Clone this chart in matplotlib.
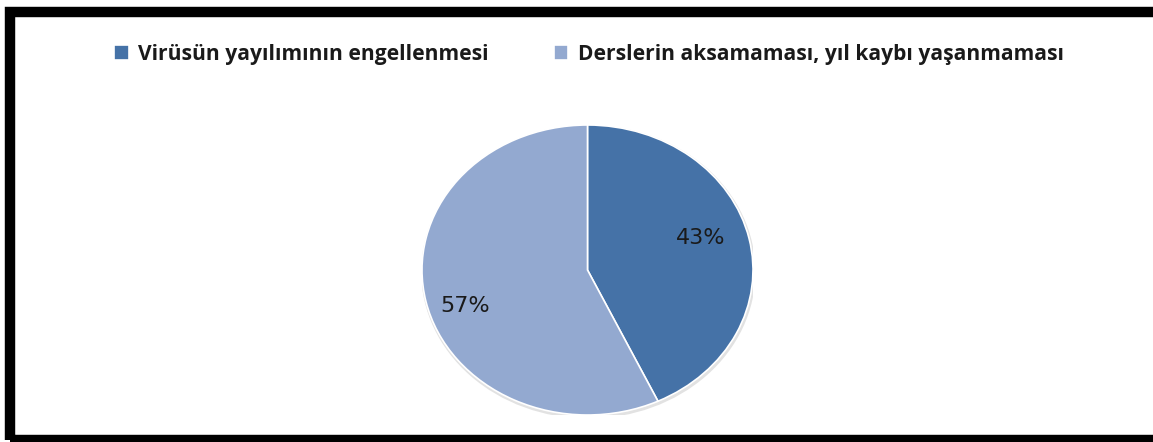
import matplotlib.pyplot as plt
import matplotlib.patches as mpatches

labels = ["Virüsün yayılımının engellenmesi", "Derslerin aksamaması, yıl kaybı yaşanmaması"]
values = [43, 57]
colors = ["#4572A7", "#93A9D0"]
label_pos = [(0.685, 0.22), (-0.74, -0.245)]  # where the original puts the % labels

W, H = 1153, 442
fig = plt.figure(figsize=(W / 100, H / 100), dpi=100)
fig.patch.set_facecolor("white")

# thick black frame (right side runs off the picture)
fig.patches.append(mpatches.Rectangle((10 / W, 2 / H), 1.2, (430.5 - 2) / H,
                                      transform=fig.transFigure, fill=False,
                                      edgecolor="black", linewidth=7.5, clip_on=False))

# pie axes: stretched a bit horizontally like the original
cx, cy, rx, ry = 587.5, 270, 165.5, 145
ax = fig.add_axes([(cx - rx) / W, (H - cy - ry) / H, 2 * rx / W, 2 * ry / H])

# soft shadow
ax.add_patch(mpatches.Ellipse((0.005, -0.012), 2.02, 2.025, facecolor="#e2e2e2",
                              edgecolor="none", zorder=0))

wedges, texts, autotexts = ax.pie(values, colors=colors, startangle=90, counterclock=False,
                                  autopct="%d%%", pctdistance=0.72,
                                  wedgeprops=dict(edgecolor="white", linewidth=1.2),
                                  textprops=dict(fontsize=16, color="#1a1a1a", family="DejaVu Sans"))
for t, p in zip(autotexts, label_pos):
    t.set_position(p)
ax.set_aspect("auto")
ax.set_xlim(-1, 1)
ax.set_ylim(-1, 1)
ax.axis("off")

fig.legend(wedges, labels, loc="upper left", bbox_to_anchor=(95 / W, 1 - 25 / H),
           ncol=2, frameon=False, handlelength=0.7, handleheight=0.7, handletextpad=0.45,
           columnspacing=3.1, prop=dict(family="Open Sans", weight="bold", size=15.1),
           labelcolor="#1a1a1a")

fig.savefig("out.png", dpi=100)
